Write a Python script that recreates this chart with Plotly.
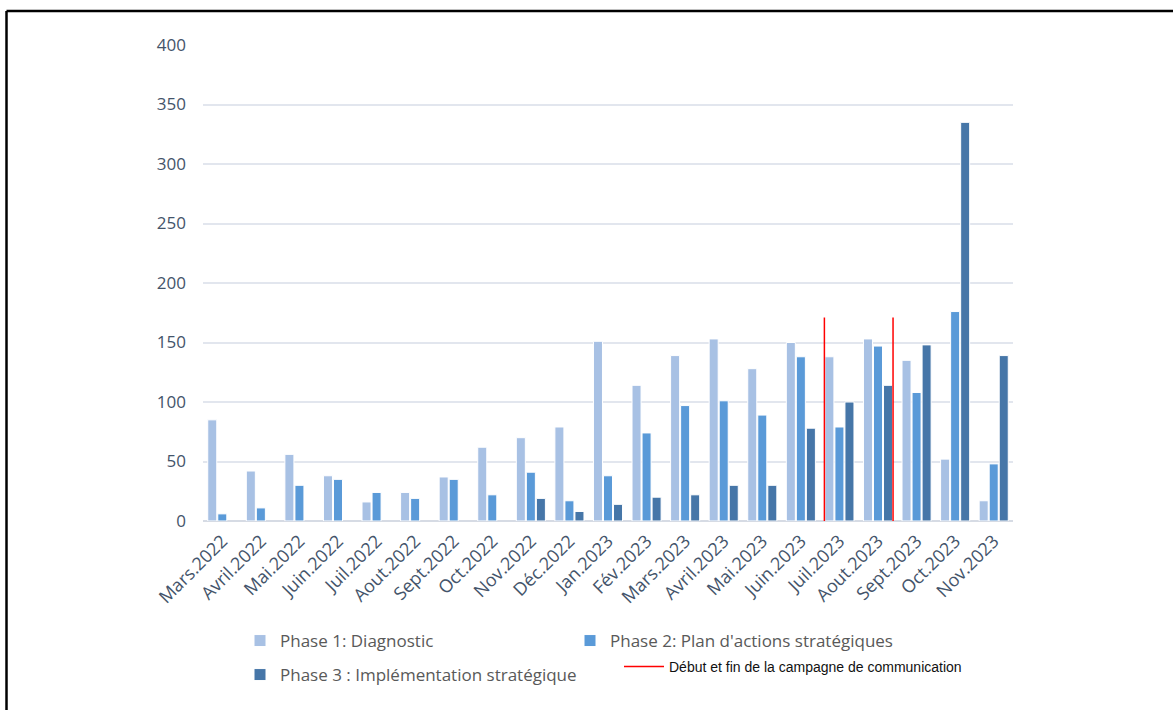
import plotly.graph_objects as go

months = ["Mars.2022", "Avril.2022", "Mai.2022", "Juin.2022", "Juil.2022", "Aout.2022",
          "Sept.2022", "Oct.2022", "Nov.2022", "Déc.2022", "Jan.2023", "Fév.2023",
          "Mars.2023", "Avril.2023", "Mai.2023", "Juin.2023", "Juil.2023", "Aout.2023",
          "Sept.2023", "Oct.2023", "Nov.2023"]

phase1 = [85, 42, 56, 38, 16, 24, 37, 62, 70, 79, 151, 114, 139, 153, 128, 150, 138, 153, 135, 52, 17]
phase2 = [6, 11, 30, 35, 24, 19, 35, 22, 41, 17, 38, 74, 97, 101, 89, 138, 79, 147, 108, 176, 48]
phase3 = [None, None, None, None, None, None, None, None, 19, 8, 14, 20, 22, 30, 30, 78, 100, 114, 148, 335, 139]

campaign_x = [15.61, 17.39]   # start / end of communication campaign (category units)
campaign_top = 171

names = ["Phase 1: Diagnostic", "Phase 2: Plan d'actions stratégiques",
         "Phase 3 : Implémentation stratégique"]
campaign_name = "Début et fin de la campagne de communication"

colors = ["#A8C1E4", "#5A9AD8", "#4676A8"]
legends = ["legend", "legend4", "legend3"]

xs = list(range(len(months)))

fig = go.Figure()
for name, vals, col, lg in zip(names, [phase1, phase2, phase3], colors, legends):
    fig.add_trace(go.Bar(x=xs, y=vals, name=name, legend=lg,
                         marker=dict(color=col, line=dict(color="#FFFFFF", width=1))))

lx, ly = [], []
for cx in campaign_x:
    lx += [cx, cx, None]
    ly += [0, campaign_top, None]
fig.add_trace(go.Scatter(x=lx, y=ly, mode="lines", name=campaign_name,
                         line=dict(color="#FF0000", width=1.5), legend="legend2"))

W, H = 1173, 710
L, R, T, B = 203, 160, 45, 189
pw, ph = W - L - R, H - T - B

def px_x(p):
    return (p - L) / pw

def px_y(p):
    return (H - B - p) / ph

leg_font = dict(size=17, color="#595959", family="Open Sans, sans-serif")

def phase_legend(px, py):
    return dict(orientation="h", x=px_x(px), xanchor="left", y=px_y(py), yanchor="top",
                itemwidth=30, font=leg_font, bgcolor="rgba(0,0,0,0)")

fig.update_layout(
    width=W, height=H,
    margin=dict(l=L, r=R, t=T, b=B, autoexpand=False),
    paper_bgcolor="white", plot_bgcolor="white",
    barmode="group", bargap=0.22, bargroupgap=0.1,
    font=dict(family="Open Sans, sans-serif", color="#595959"),
    xaxis=dict(range=[-0.5, len(months) - 0.5], tickmode="array", tickvals=xs, ticktext=months,
               tickangle=-45, showgrid=False, zeroline=False, showline=False,
               ticklabelstandoff=5,
               tickfont=dict(size=18, color="#44546A"), ticks=""),
    yaxis=dict(range=[0, 400], tickvals=[0, 50, 100, 150, 200, 250, 300, 350, 400],
               showgrid=True, gridcolor="#E2E6EE", gridwidth=1.5, zeroline=True,
               zerolinecolor="#D6DBE4", zerolinewidth=1.5, showline=False, ticks="",
               ticklabelstandoff=16, tickfont=dict(size=17, color="#44546A")),
    legend=phase_legend(240, 623),
    legend4=phase_legend(570, 623),
    legend3=phase_legend(240, 657),
    legend2=dict(orientation="h", x=px_x(619), xanchor="left", y=px_y(651), yanchor="top",
                 itemwidth=40,
                 font=dict(size=14, color="#111111",
                           family="Liberation Sans Narrow, Arial Narrow, Liberation Sans, sans-serif"),
                 bgcolor="rgba(0,0,0,0)"),
    showlegend=True,
)

# outer frame (top and left border)
fig.add_shape(type="line", xref="paper", yref="paper", x0=px_x(6.5), x1=px_x(1180),
              y0=px_y(11), y1=px_y(11), line=dict(color="black", width=2.5))
fig.add_shape(type="line", xref="paper", yref="paper", x0=px_x(6.5), x1=px_x(6.5),
              y0=px_y(11), y1=px_y(720), line=dict(color="black", width=2.5))

fig.write_html("out.html")
